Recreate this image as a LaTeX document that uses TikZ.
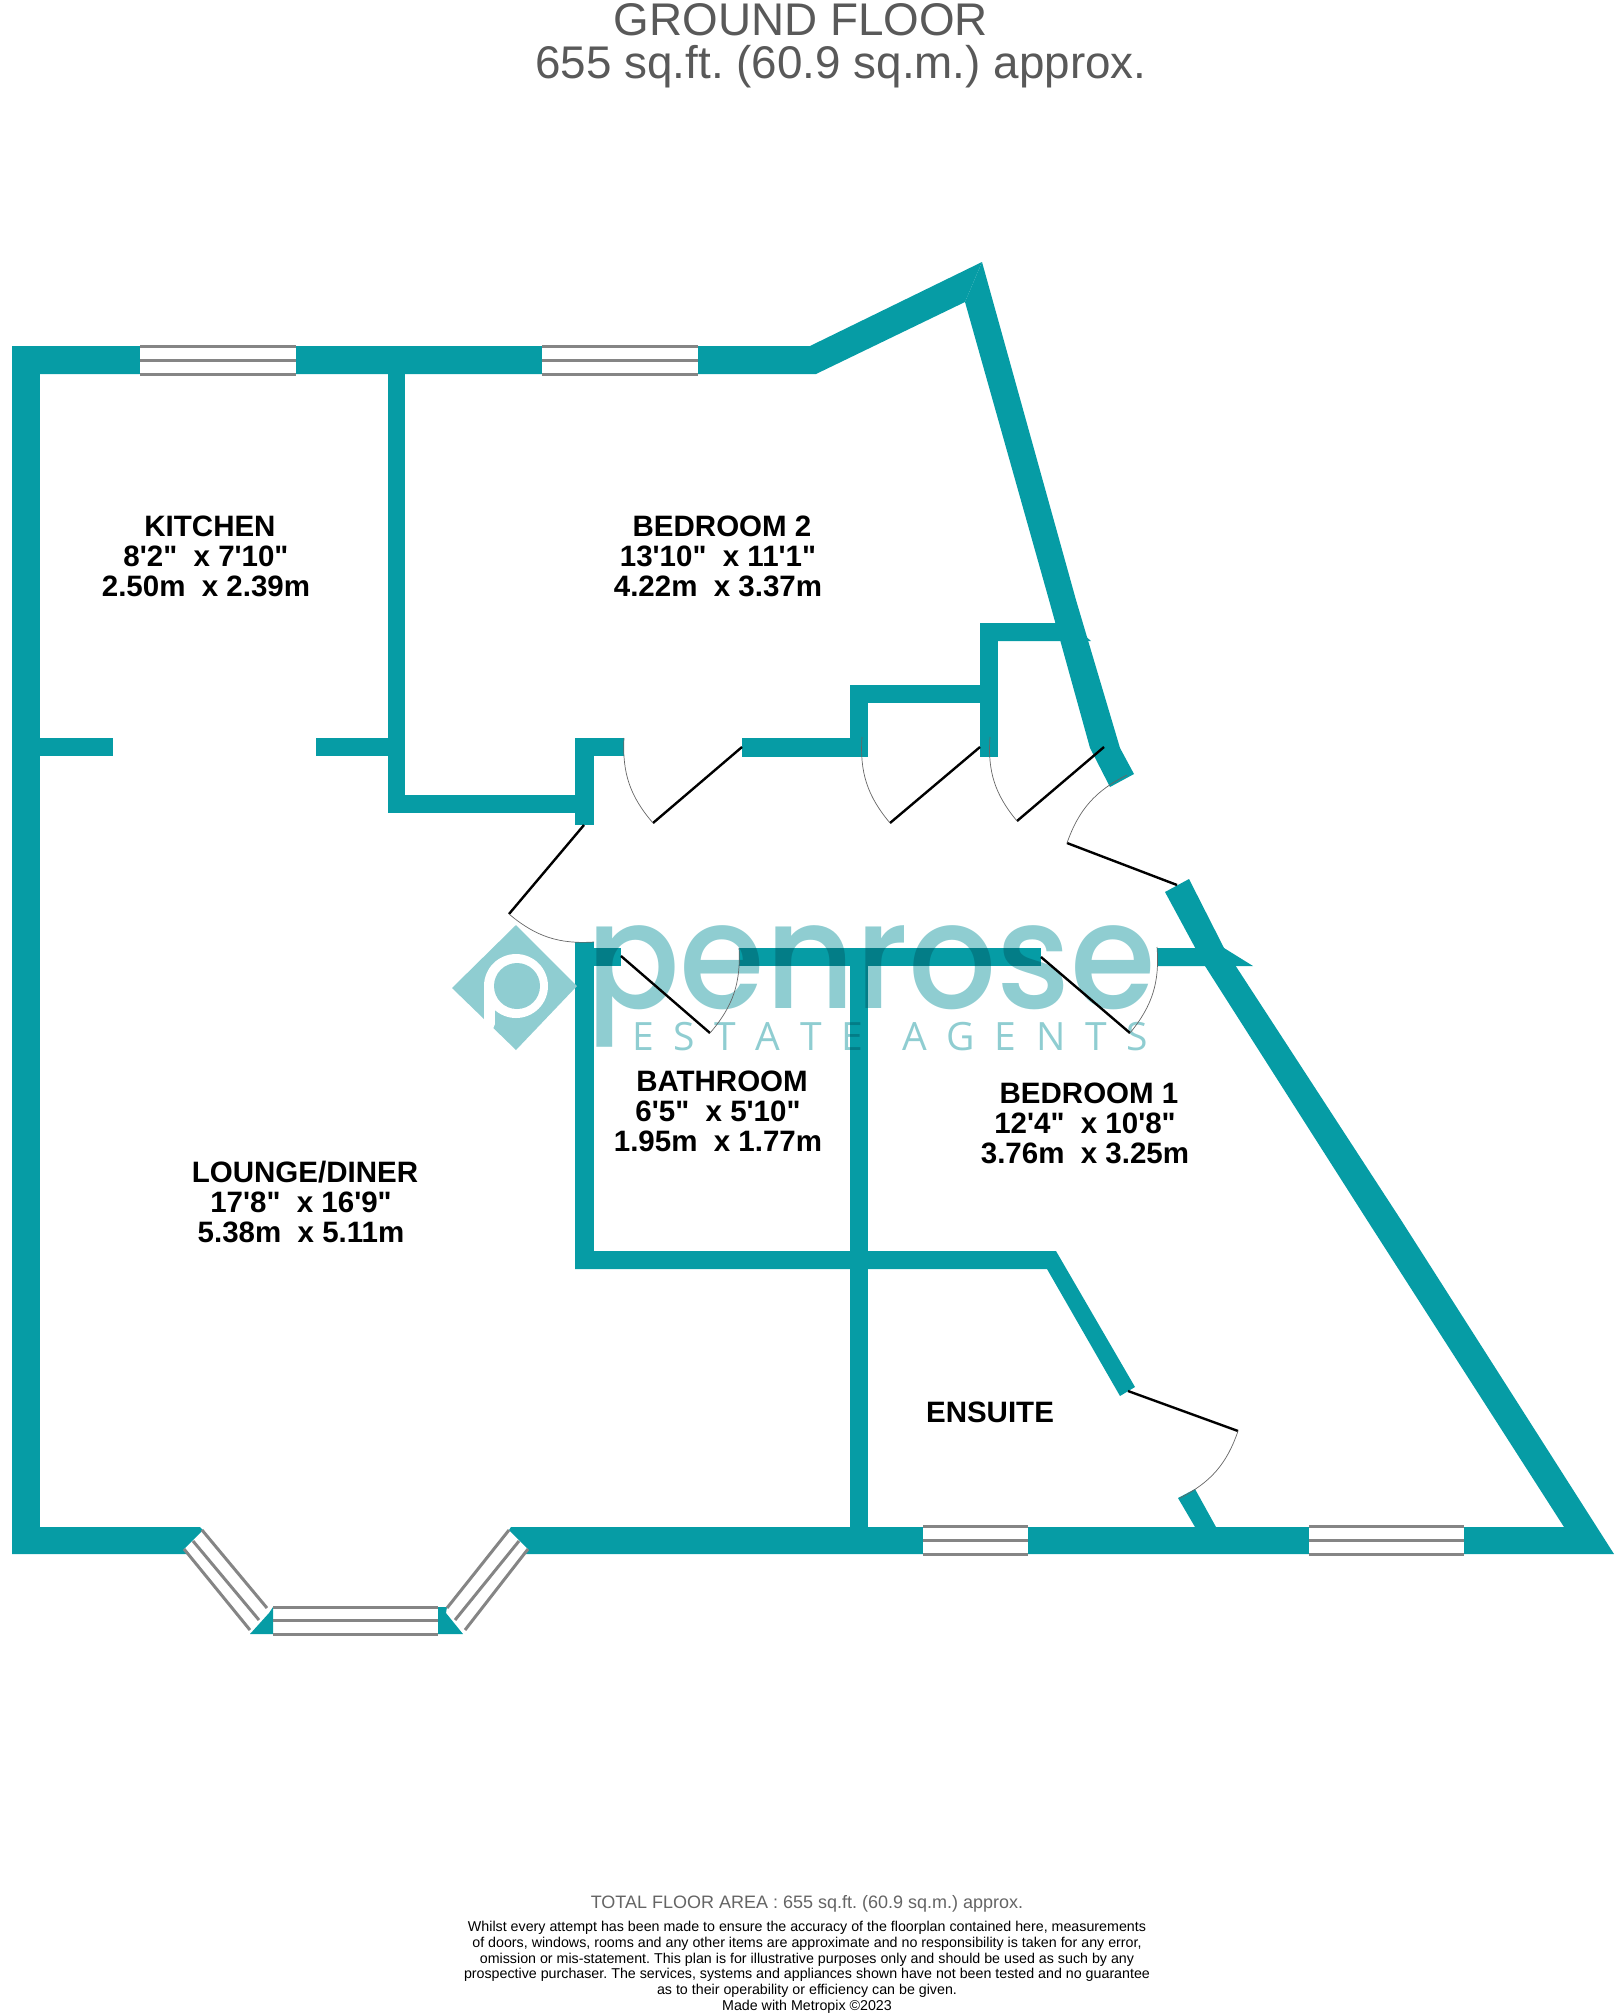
\documentclass[tikz,border=0pt]{standalone}
\usepackage{fontspec}
\newfontfamily\lib{Liberation Sans}
\newfontfamily\pop[UprightFont=* Medium]{Poppins}
\newfontfamily\popl{Open Sans}
\definecolor{wallc}{RGB}{6,156,165}
\definecolor{logoc}{RGB}{143,205,209}
\definecolor{glassc}{RGB}{133,133,133}
\definecolor{headc}{RGB}{89,89,89}
\definecolor{notec}{RGB}{100,100,100}
\tikzset{
  wall/.style={fill=wallc,draw=none},
  glass/.style={draw=glassc,line width=3pt},
  pane/.style={fill=white,draw=none},
  leaf/.style={draw=black,line width=2.4pt},
  swing/.style={draw=black!60,line width=0.7pt},
  room/.style={font=\frenchspacing\lib\bfseries\fontsize{29.5}{30}\selectfont,align=center,inner sep=0pt,text=black},
  head/.style={font=\frenchspacing\lib\fontsize{45.8}{50}\selectfont,text=headc,inner sep=0pt},
  note/.style={font=\frenchspacing\lib\fontsize{14.25}{15.8}\selectfont,align=center,inner sep=0pt,text=black}
}
\begin{document}
\begin{tikzpicture}[x=1pt,y=-1pt]
\useasboundingbox (0,0) rectangle (1618,2016);
% --- walls
\fill[wall] (12,346) rectangle (40,1554);
\fill[wall] (12,346) -- (810,346) -- (982,262) -- (965,302) -- (816,374) -- (12,374) -- cycle;
\fill[wall] (982,262) -- (1076,600) -- (1120,748) -- (1134,774) -- (1110,787) -- (1090,748) -- (1049,600) -- (965,302) -- cycle;
\fill[wall] (388,374) rectangle (405,813);
\fill[wall] (388,795) rectangle (575,813);
\fill[wall] (575,738) rectangle (594,825);
\fill[wall] (575,738) rectangle (624,756);
\fill[wall] (742,738) rectangle (868,757);
\fill[wall] (850,685) rectangle (868,757);
\fill[wall] (850,685) rectangle (998,703);
\fill[wall] (980,623) rectangle (998,757);
\fill[wall] (980,623) -- (1070,623) -- (1091,641) -- (980,641) -- cycle;
\fill[wall] (40,738) rectangle (113,756);
\fill[wall] (316,738) rectangle (388,756);
\fill[wall] (575,942) rectangle (594,1269);
\fill[wall] (575,948) rectangle (621,966);
\fill[wall] (739,948) rectangle (1041,966);
\fill[wall] (1157,948) -- (1224,948) -- (1253,966) -- (1157,966) -- cycle;
\fill[wall] (850,948) rectangle (868,1540);
\fill[wall] (575,1251) -- (1056,1251) -- (1135,1387) -- (1120,1396) -- (1047,1269) -- (575,1269) -- cycle;
\fill[wall] (1165,892) -- (1189,879) -- (1224,948) -- (1401,1220) -- (1614,1554) -- (1400,1554) -- (1400,1527) -- (1564,1527) -- (1367,1220) -- (1205,966) -- cycle;
\fill[wall] (12,1527) -- (200,1527) -- (203,1530) -- (184,1549) -- (188,1554) -- (12,1554) -- cycle;
\fill[wall] (511,1527) -- (1400,1527) -- (1400,1554) -- (524,1554) -- (528,1549) -- (509,1530) -- cycle;
\fill[wall] (1178,1498) -- (1195,1489) -- (1216,1527) -- (1216,1540) -- (1195,1527) -- cycle;
\fill[wall] (250,1634) -- (273,1634) -- (273,1607) -- (269,1613) -- cycle;
\fill[wall] (438,1607) -- (447,1607) -- (446,1613) -- (463,1634) -- (438,1634) -- cycle;
% --- straight windows
\fill[pane] (140,346) rectangle (296,374);
\draw[glass] (140,346) -- (296,346) (140,360) -- (296,360) (140,374) -- (296,374);
\fill[pane] (542,346) rectangle (698,374);
\draw[glass] (542,346) -- (698,346) (542,360) -- (698,360) (542,374) -- (698,374);
\fill[pane] (923,1526) rectangle (1028,1554);
\draw[glass] (923,1526) -- (1028,1526) (923,1540) -- (1028,1540) (923,1554) -- (1028,1554);
\fill[pane] (1309,1526) rectangle (1464,1554);
\draw[glass] (1309,1526) -- (1464,1526) (1309,1540) -- (1464,1540) (1309,1554) -- (1464,1554);
% --- bay window
\draw[glass] (273,1607) -- (438,1607) (273,1620) -- (438,1620) (273,1634) -- (438,1634);
\draw[glass] (202,1530) -- (267,1608) (193,1541) -- (259,1620) (184,1549) -- (250,1630);
\draw[glass] (509,1530) -- (447,1608) (519,1541) -- (455,1620) (528,1549) -- (465,1630);
% --- logo
\fill[logoc] (452,988) -- (516,925) -- (577,986) -- (516,1050) -- cycle;
\fill[white] (516,986) circle[radius=32];
\fill[white] (484,986) rectangle (495,1024);
\fill[white] (489.5,1024) circle[radius=5.5];
\fill[logoc] (517,986) circle[radius=23];
\begin{scope}[blend mode=multiply]
\node[inner sep=0pt,anchor=base,text=logoc,xscale=0.935] (logoname) at (871,1008) {\pop\fontsize{148}{148}\selectfont penrose};
\node[inner sep=0pt,anchor=base,text=logoc] (logotag) at (890,1050) {\makebox[516pt][s]{\popl\fontsize{39}{39}\selectfont E\hfill S\hfill T\hfill A\hfill T\hfill E\hfill\hfill A\hfill G\hfill E\hfill N\hfill T\hfill S}};
\end{scope}
% --- doors
\coordinate (d1h) at (742,747); \coordinate (d1t) at (653,823); \coordinate (d1s) at (624,738);
\coordinate (d2h) at (980,747); \coordinate (d2t) at (890,823); \coordinate (d2s) at (862,737);
\coordinate (d3h) at (1104,747); \coordinate (d3t) at (1017,821); \coordinate (d3s) at (990,737);
\coordinate (d4h) at (1177,885); \coordinate (d4t) at (1067,843); \coordinate (d4s) at (1127,775);
\coordinate (d5h) at (621,956); \coordinate (d5t) at (710,1033); \coordinate (d5s) at (739,948);
\coordinate (d6h) at (1041,957); \coordinate (d6t) at (1130,1033); \coordinate (d6s) at (1157,947);
\coordinate (d7h) at (584,825); \coordinate (d7t) at (509,914); \coordinate (d7s) at (594,942);
\coordinate (d8h) at (1128,1391); \coordinate (d8t) at (1238,1431); \coordinate (d8s) at (1180,1498);
\draw[leaf] (d1h) -- (d1t); \draw[swing] (d1s) to[bend right=22] (d1t);
\draw[leaf] (d2h) -- (d2t); \draw[swing] (d2s) to[bend right=22] (d2t);
\draw[leaf] (d3h) -- (d3t); \draw[swing] (d3s) to[bend right=22] (d3t);
\draw[leaf] (d4h) -- (d4t); \draw[swing] (d4s) to[bend right=22] (d4t);
\draw[leaf] (d5h) -- (d5t); \draw[swing] (d5s) to[bend left=22] (d5t);
\draw[leaf] (d6h) -- (d6t); \draw[swing] (d6s) to[bend left=22] (d6t);
\draw[leaf] (d7h) -- (d7t); \draw[swing] (d7t) to[bend right=22] (d7s);
\draw[leaf] (d8h) -- (d8t); \draw[swing] (d8t) to[bend left=22] (d8s);
% --- labels
\node[head,anchor=center] (title1) at (801,20) {GROUND FLOOR};
\node[head,anchor=center] (title2) at (841,67) {655 sq.ft. (60.9 sq.m.) approx.};
\node[room] (kitchen) at (206,556) {\hspace*{8pt}KITCHEN\\[0pt]8'2"~~x 7'10"\\2.50m~~x 2.39m};
\node[room] (bed2) at (718,556) {\hspace*{8pt}BEDROOM 2\\13'10"~~x 11'1"\\4.22m~~x 3.37m};
\node[room] (lounge) at (301,1202) {\hspace*{8pt}LOUNGE/DINER\\17'8"~~x 16'9"\\5.38m~~x 5.11m};
\node[room] (bath) at (718,1111) {\hspace*{8pt}BATHROOM\\6'5"~~x 5'10"\\1.95m~~x 1.77m};
\node[room] (bed1) at (1085,1123) {\hspace*{8pt}BEDROOM 1\\12'4"~~x 10'8"\\3.76m~~x 3.25m};
\node[room] (ensuite) at (990,1412) {ENSUITE};
\node[inner sep=0pt,text=notec,font=\frenchspacing\lib\fontsize{18}{20}\selectfont] (total) at (807,1904) {TOTAL FLOOR AREA : 655 sq.ft. (60.9 sq.m.) approx.};
\node[note,anchor=north] (disc) at (807,1921) {Whilst every attempt has been made to ensure the accuracy of the floorplan contained here, measurements\\of doors, windows, rooms and any other items are approximate and no responsibility is taken for any error,\\omission or mis-statement. This plan is for illustrative purposes only and should be used as such by any\\prospective purchaser. The services, systems and appliances shown have not been tested and no guarantee\\as to their operability or efficiency can be given.\\Made with Metropix \textcopyright 2023};
\end{tikzpicture}
\end{document}
